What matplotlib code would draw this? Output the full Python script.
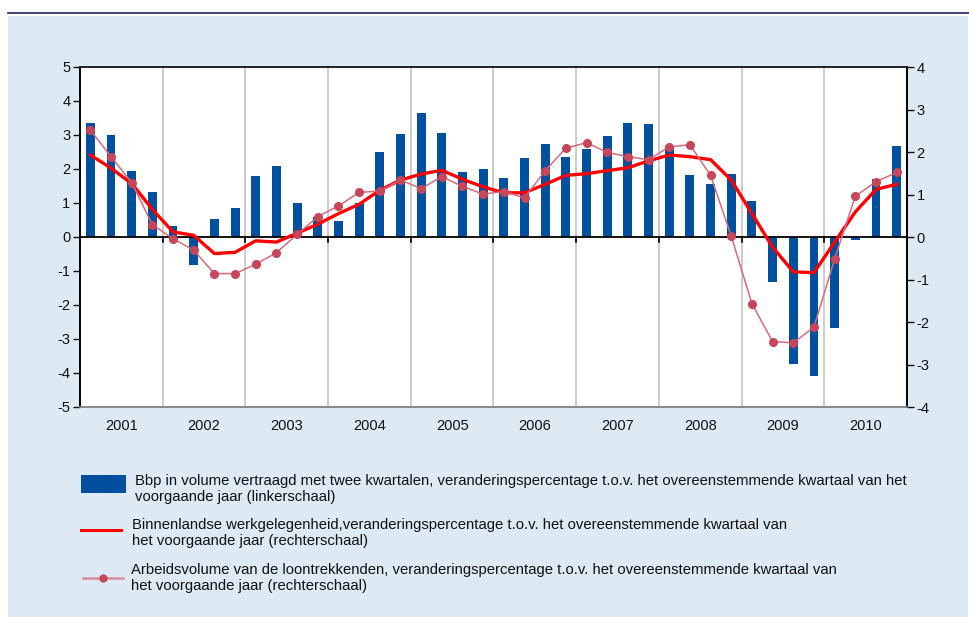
import numpy as np
import matplotlib
matplotlib.use('Agg')
import matplotlib.pyplot as plt
from matplotlib.patches import Rectangle
from matplotlib.lines import Line2D

plt.rcParams['font.family'] = ['Liberation Sans', 'DejaVu Sans']
plt.rcParams['axes.unicode_minus'] = False

# data, quarters 2001Q1 - 2010Q4
years = ['2001', '2002', '2003', '2004', '2005', '2006', '2007', '2008', '2009', '2010']

bbp = [3.35, 2.99, 1.93, 1.33, 0.33, -0.82, 0.53, 0.86,
       1.78, 2.10, 1.01, 0.58, 0.47, 0.99, 2.49, 3.02,
       3.65, 3.05, 1.90, 1.99, 1.75, 2.31, 2.73, 2.34,
       2.58, 2.96, 3.35, 3.32, 2.64, 1.81, 1.57, 1.85,
       1.05, -1.33, -3.74, -4.10, -2.68, -0.10, 1.70, 2.67]

werkgelegenheid = [1.93, 1.62, 1.26, 0.65, 0.12, 0.04, -0.39, -0.36,
                   -0.09, -0.12, 0.09, 0.30, 0.55, 0.77, 1.10, 1.34,
                   1.48, 1.57, 1.36, 1.18, 1.04, 1.04, 1.24, 1.45,
                   1.49, 1.56, 1.63, 1.79, 1.93, 1.89, 1.82, 1.34,
                   0.55, -0.24, -0.82, -0.84, -0.12, 0.59, 1.12, 1.24]

arbeidsvolume = [2.52, 1.89, 1.28, 0.29, -0.04, -0.31, -0.86, -0.86,
                 -0.64, -0.37, 0.06, 0.48, 0.73, 1.05, 1.08, 1.34,
                 1.14, 1.42, 1.19, 1.01, 1.07, 0.92, 1.56, 2.09,
                 2.22, 1.99, 1.89, 1.82, 2.12, 2.17, 1.45, 0.02,
                 -1.57, -2.46, -2.49, -2.12, -0.52, 0.96, 1.30, 1.52]

labels = ['Bbp in volume vertraagd met twee kwartalen, veranderingspercentage t.o.v. het overeenstemmende kwartaal van het\nvoorgaande jaar (linkerschaal)',
          'Binnenlandse werkgelegenheid,veranderingspercentage t.o.v. het overeenstemmende kwartaal van\nhet voorgaande jaar (rechterschaal)',
          'Arbeidsvolume van de loontrekkenden, veranderingspercentage t.o.v. het overeenstemmende kwartaal van\nhet voorgaande jaar (rechterschaal)']

W, H = 970, 617
BLUE = '#00509F'
RED = '#FF0000'
PINK = '#C8465A'
PINK_LINE = '#D66A80'
PANEL = '#DEEAF3'

fig = plt.figure(figsize=(W / 100, H / 100), dpi=100, facecolor='white')

def fx(px):
    return px / W

def fy(py):
    return 1 - py / H

# background panel and top rule
fig.patches.append(Rectangle((fx(8), fy(617)), fx(960), (617 - 16) / H,
                             transform=fig.transFigure, facecolor=PANEL, edgecolor='none', zorder=-10))
fig.lines.append(Line2D([fx(8), fx(970)], [fy(13), fy(13)], transform=fig.transFigure,
                        color='#1A2060', lw=1.2))

ax = fig.add_axes([fx(80), fy(407), (907 - 80) / W, (407 - 67) / H])
ax.set_facecolor('white')
ax2 = ax.twinx()

x = np.arange(len(bbp))
ax.bar(x, bbp, width=0.43, color=BLUE, zorder=3)

ax.set_xlim(-0.5, len(bbp) - 0.5)
ax.set_ylim(-5, 5)
ax2.set_ylim(-4, 4)
ax.set_yticks(range(-5, 6))
ax2.set_yticks(range(-4, 5))

# year separators
for k in range(1, len(years)):
    ax.axvline(4 * k - 0.5, color='#C8C8C8', lw=1.3, zorder=1)
ax.axhline(0, color='black', lw=1.3, zorder=4)
for k in range(1, len(years)):
    ax.plot([4 * k - 0.5, 4 * k - 0.5], [0, -0.15], color='black', lw=1.2, zorder=4, clip_on=False)

ax2.plot(x, werkgelegenheid, color=RED, lw=2.4, zorder=5)
ax2.plot(x, arbeidsvolume, color=PINK_LINE, lw=1.1, marker='o', markersize=5.5,
         markerfacecolor=PINK, markeredgecolor=PINK, zorder=6)

ax.set_xticks([4 * k + 1.5 for k in range(len(years))])
ax.set_xticklabels(years)
ax.tick_params(axis='x', length=0, pad=9, labelsize=10.5, colors='#111111')
ax.tick_params(axis='y', length=5, width=1, pad=2, labelsize=10.5, colors='#111111')
ax2.tick_params(axis='y', length=5, width=1, pad=2, labelsize=10.5, colors='#111111')
for a in (ax, ax2):
    a.spines['left'].set_color('black')
    a.spines['right'].set_color('black')
    a.spines['top'].set_color('#222222')
    a.spines['bottom'].set_color('#888888')
    for s in a.spines.values():
        s.set_linewidth(1.2)

# legend
fig.patches.append(Rectangle((fx(81), fy(493)), fx(45), 18 / H, transform=fig.transFigure,
                             facecolor=BLUE, edgecolor='none'))
fig.text(fx(135), fy(489), labels[0], fontsize=10.7, va='center', ha='left', linespacing=1.1, color='#111111')

fig.lines.append(Line2D([fx(81), fx(121)], [fy(530), fy(530)], transform=fig.transFigure, color=RED, lw=2.2))
fig.text(fx(132), fy(533), labels[1], fontsize=10.7, va='center', ha='left', linespacing=1.1, color='#111111')

fig.lines.append(Line2D([fx(83), fx(123)], [fy(578), fy(578)], transform=fig.transFigure,
                        color='#D98C9C', lw=1.8))
fig.lines.append(Line2D([fx(103)], [fy(578)], transform=fig.transFigure, marker='o', markersize=5,
                        color=PINK, lw=0))
fig.text(fx(131), fy(578), labels[2], fontsize=10.7, va='center', ha='left', linespacing=1.1, color='#111111')

fig.savefig('out.png', dpi=100, facecolor='white')
